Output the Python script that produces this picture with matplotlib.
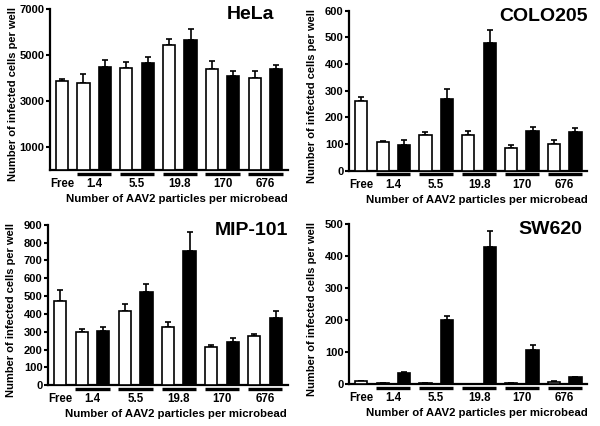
import numpy as np
import matplotlib
matplotlib.use("Agg")
import matplotlib.pyplot as plt
import matplotlib.transforms as mtransforms

plt.rcParams["font.family"] = ["Liberation Sans", "DejaVu Sans"]
plt.rcParams["font.weight"] = "bold"

groups = ["Free", "1.4", "5.5", "19.8", "170", "676"]
# bar order: Free, then (white, black) for each particle number
fills = ["w"] + ["w", "k"] * 5

hela_mean = [3875, 3775, 4485, 4455, 4660, 5430, 5660, 4400, 4095, 4020, 4400]
hela_sem = [105, 405, 290, 245, 245, 260, 465, 330, 230, 275, 190]
colo_mean = [262, 107, 97, 133, 270, 136, 478, 87, 148, 102, 146]
colo_sem = [13, 6, 18, 14, 37, 14, 49, 11, 17, 15, 14]
mip_mean = [470, 298, 303, 415, 522, 327, 755, 212, 243, 277, 378]
mip_sem = [63, 20, 22, 40, 48, 30, 105, 13, 22, 13, 37]
sw_mean = [10, 3, 35, 4, 200, 2, 427, 3, 107, 8, 22]
sw_sem = [1, 0.5, 4, 0.5, 13, 0.3, 51, 0.5, 14, 1, 2]

panels = [
    ("HeLa", hela_mean, hela_sem, 7000, [1000, 3000, 5000, 7000],
     [0.0833, 0.601, 0.397, 0.377], 0.94),
    ("COLO205", colo_mean, colo_sem, 600, range(0, 601, 100),
     [0.582, 0.599, 0.397, 0.376], 1.0),
    ("MIP-101", mip_mean, mip_sem, 900, range(0, 901, 100),
     [0.080, 0.0955, 0.400, 0.377], 1.0),
    ("SW620", sw_mean, sw_sem, 500, range(0, 501, 100),
     [0.582, 0.098, 0.397, 0.376], 0.98),
]

fig = plt.figure(figsize=(6, 4.26), dpi=100)
x = np.arange(11)

for name, mean, sem, ytop, yticks, rect, title_x in panels:
    ax = fig.add_axes(rect)
    ax.bar(x, mean, width=0.57, color=fills, edgecolor="k", linewidth=1.2, zorder=3)
    ax.errorbar(x, mean, yerr=[np.zeros(11), sem], fmt="none", ecolor="k",
                elinewidth=1.2, capsize=2.3, capthick=1.2, zorder=2)
    ax.set_xlim(-0.56, 10.56)
    ax.set_ylim(0, ytop)
    ax.set_yticks(list(yticks))
    ax.tick_params(axis="y", direction="out", length=3, width=1.5, labelsize=8, pad=1)
    for lab in ax.get_yticklabels():
        lab.set_fontweight("bold")
    ax.set_xticks([])
    for s in ["top", "right"]:
        ax.spines[s].set_visible(False)
    for s in ["left", "bottom"]:
        ax.spines[s].set_linewidth(1.6)

    trans = mtransforms.blended_transform_factory(ax.transData, ax.transAxes)
    ax.text(0, -0.087, groups[0], transform=trans, ha="center", va="center",
            fontsize=8.3, fontweight="bold")
    for i, g in enumerate(groups[1:]):
        c = 1.5 + 2 * i
        ax.plot([c - 0.8, c + 0.8], [-0.022, -0.022], transform=trans, color="k",
                lw=2.4, solid_capstyle="butt", clip_on=False)
        ax.text(c, -0.087, g, transform=trans, ha="center", va="center",
                fontsize=8.3, fontweight="bold")

    ax.text(0.534, -0.18, "Number of AAV2 particles per microbead", transform=ax.transAxes,
            ha="center", va="center", fontsize=8.2, fontweight="bold")
    ax.text(-0.155, 0.47, "Number of infected cells per well", transform=ax.transAxes,
            rotation=90, ha="center", va="center", fontsize=8.0, fontweight="bold")
    ax.text(title_x, 0.965, name, transform=ax.transAxes, ha="right", va="center",
            fontsize=14, fontweight="bold")

fig.savefig("out.png", dpi=100)
